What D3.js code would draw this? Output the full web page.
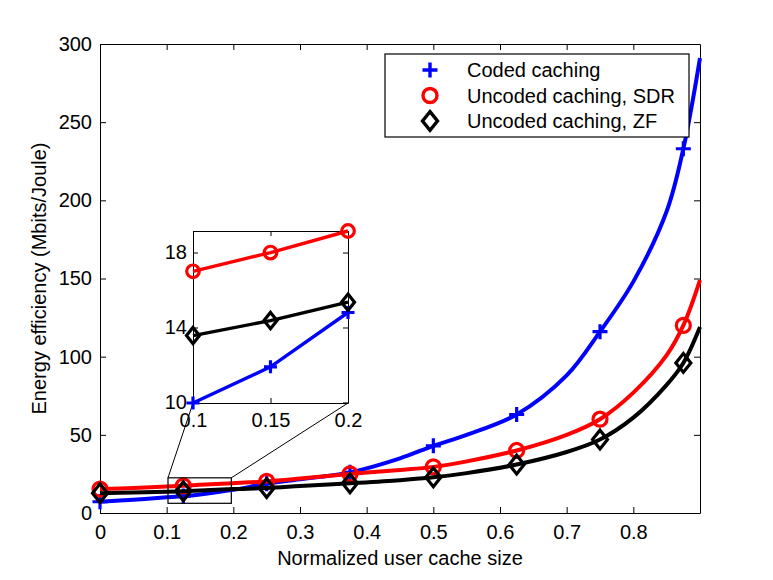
<!DOCTYPE html>
<html>
<head>
<meta charset="utf-8">
<script src="https://cdn.jsdelivr.net/npm/d3@7"></script>
<style>
  body { margin: 0; background: #fff; }
  svg { font-family: "Liberation Sans", Arial, Helvetica, sans-serif; }
  .axis path, .axis line { stroke: #000; stroke-width: 1; }
  .axis text { font-size: 20px; fill: #000; }
</style>
</head>
<body>
<div id="chart"></div>
<script>
/* Energy efficiency vs normalized user cache size, with a zoomed inset. */

// x grid shared by the three curves
const CACHE = [0, 0.05, 0.1, 0.125, 0.15, 0.2, 0.25, 0.3, 0.375, 0.45, 0.5, 0.55, 0.625, 0.7, 0.75, 0.8, 0.85, 0.875, 0.9];
const CODED    = [7.2, 8.5, 10.0, 10.8, 11.9, 14.8, 18.7, 21.5, 26, 35, 43, 50, 63, 88, 116, 148, 193, 233, 291];
const SDR      = [15.3, 16.0, 17.0, 17.4, 18.0, 19.1, 20.2, 22, 25, 27.5, 29.5, 33, 40, 50, 60, 77, 101, 120, 149];
const ZF       = [12.7, 13.1, 13.6, 13.9, 14.4, 15.3, 16.0, 17.2, 19, 21, 22.8, 25.5, 31, 39, 47, 61, 82, 96, 119];

// markers sit every 0.125
const MARKER_X = [0, 0.125, 0.25, 0.375, 0.5, 0.625, 0.75, 0.875];

// inset (zoom on 0.1 .. 0.2)
const INSET_X      = [0.1, 0.15, 0.2];
const INSET_CODED  = [9.97, 11.9, 14.8];
const INSET_SDR    = [17.0, 18.0, 19.15];
const INSET_ZF     = [13.57, 14.37, 15.35];

// zoom rectangle drawn in the main axes
const ZOOM_X = [0.102, 0.197];
const ZOOM_Y = [6.2, 22.5];

const X_TICKS = [0, 0.1, 0.2, 0.3, 0.4, 0.5, 0.6, 0.7, 0.8];
const Y_TICKS = [0, 50, 100, 150, 200, 250, 300];
const INSET_X_TICKS = [0.1, 0.15, 0.2];
const INSET_Y_TICKS = [10, 14, 18];

const SERIES = [
  { name: "Coded caching",          values: CODED, inset: INSET_CODED, color: "#0000ff", marker: "plus" },
  { name: "Uncoded caching, SDR",   values: SDR,   inset: INSET_SDR,   color: "#ff0000", marker: "circle" },
  { name: "Uncoded caching, ZF",    values: ZF,    inset: INSET_ZF,    color: "#000000", marker: "diamond" }
];

const W = 773, H = 580;

function markerPath(type, s){
  // s = half size
  if (type === "plus")    return `M${-s},0H${s}M0,${-s}V${s}`;
  if (type === "diamond") return `M0,${-s * 1.25}L${s},0L0,${s * 1.25}L${-s},0Z`;
  return d3.arc()({ innerRadius: 0, outerRadius: s, startAngle: 0, endAngle: 2 * Math.PI });
}

function drawMarkers(g, s, pts, size, width){
  g.selectAll(null).data(pts).join("path")
      .attr("transform", p => `translate(${p[0]},${p[1]})`)
      .attr("d", markerPath(s.marker, size))
      .attr("fill", "none")
      .attr("stroke", s.color)
      .attr("stroke-width", width);
}

function drawChart(){
  const svg = d3.select("#chart").append("svg")
      .attr("width", W).attr("height", H);

  const x = d3.scaleLinear().domain([0, 0.9]).range([100, 700]);
  const y = d3.scaleLinear().domain([0, 300]).range([513, 44]);

  // frame with inward ticks on all four sides
  svg.append("g").attr("class", "axis")
      .attr("transform", `translate(0,${y(0)})`)
      .call(d3.axisBottom(x).tickValues(X_TICKS).tickSize(-6).tickPadding(12).tickSizeOuter(0)
        .tickFormat(d => d === 0 ? "0" : d3.format(".1f")(d)));
  svg.append("g").attr("class", "axis")
      .attr("transform", `translate(0,${y(300)})`)
      .call(d3.axisTop(x).tickValues(X_TICKS).tickSize(-6).tickSizeOuter(0).tickFormat(""));
  svg.append("g").attr("class", "axis")
      .attr("transform", `translate(${x(0)},0)`)
      .call(d3.axisLeft(y).tickValues(Y_TICKS).tickSize(-6).tickPadding(8).tickSizeOuter(0));
  svg.append("g").attr("class", "axis")
      .attr("transform", `translate(${x(0.9)},0)`)
      .call(d3.axisRight(y).tickValues(Y_TICKS).tickSize(-6).tickSizeOuter(0).tickFormat(""));

  svg.append("text")
      .attr("x", (x(0) + x(0.9)) / 2).attr("y", 565)
      .attr("text-anchor", "middle").attr("font-size", 20)
      .text("Normalized user cache size");
  svg.append("text")
      .attr("transform", `translate(46,${(y(0) + y(300)) / 2}) rotate(-90)`)
      .attr("text-anchor", "middle").attr("font-size", 20)
      .text("Energy efficiency (Mbits/Joule)");

  // curves
  const line = d3.line().x(d => x(d[0])).y(d => y(d[1])).curve(d3.curveCatmullRom.alpha(0.5));
  SERIES.forEach(s => {
    const pts = CACHE.map((c, i) => [c, s.values[i]]);
    svg.append("path").datum(pts)
        .attr("d", line).attr("fill", "none")
        .attr("stroke", s.color).attr("stroke-width", 4);
    const mk = pts.filter(p => MARKER_X.includes(p[0])).map(p => [x(p[0]), y(p[1])]);
    drawMarkers(svg.append("g"), s, mk, s.marker === "circle" ? 7 : 7.5, 3.2);
  });

  // zoom rectangle
  svg.append("rect")
      .attr("x", x(ZOOM_X[0])).attr("y", y(ZOOM_Y[1]))
      .attr("width", x(ZOOM_X[1]) - x(ZOOM_X[0])).attr("height", y(ZOOM_Y[0]) - y(ZOOM_Y[1]))
      .attr("fill", "none").attr("stroke", "#000").attr("stroke-width", 1.2);

  // inset axes
  const allInset = INSET_CODED.concat(INSET_SDR, INSET_ZF);
  const ix = d3.scaleLinear().domain(d3.extent(INSET_X)).range([193, 348]);
  const iy = d3.scaleLinear().domain(d3.extent(allInset)).range([403, 231]);

  // connectors from zoom box to inset
  svg.append("line")
      .attr("x1", x(ZOOM_X[0])).attr("y1", y(ZOOM_Y[1])).attr("x2", ix.range()[0]).attr("y2", iy.range()[0])
      .attr("stroke", "#000").attr("stroke-width", 1);
  svg.append("line")
      .attr("x1", x(ZOOM_X[1])).attr("y1", y(ZOOM_Y[1])).attr("x2", ix.range()[1]).attr("y2", iy.range()[0])
      .attr("stroke", "#000").attr("stroke-width", 1);

  const inset = svg.append("g");
  inset.append("rect")
      .attr("x", 193).attr("y", 231).attr("width", 155).attr("height", 172)
      .attr("fill", "#fff");
  inset.append("g").attr("class", "axis")
      .attr("transform", `translate(0,${iy.range()[0]})`)
      .call(d3.axisBottom(ix).tickValues(INSET_X_TICKS).tickSize(-5).tickPadding(10).tickSizeOuter(0)
        .tickFormat(d3.format("~g")));
  inset.append("g").attr("class", "axis")
      .attr("transform", `translate(0,${iy.range()[1]})`)
      .call(d3.axisTop(ix).tickValues(INSET_X_TICKS).tickSize(-5).tickSizeOuter(0).tickFormat(""));
  inset.append("g").attr("class", "axis")
      .attr("transform", `translate(${ix.range()[0]},0)`)
      .call(d3.axisLeft(iy).tickValues(INSET_Y_TICKS).tickSize(-5).tickPadding(6).tickSizeOuter(0));
  inset.append("g").attr("class", "axis")
      .attr("transform", `translate(${ix.range()[1]},0)`)
      .call(d3.axisRight(iy).tickValues(INSET_Y_TICKS).tickSize(-5).tickSizeOuter(0).tickFormat(""));

  const iline = d3.line().x(d => ix(d[0])).y(d => iy(d[1]));
  SERIES.forEach(s => {
    const pts = INSET_X.map((c, i) => [c, s.inset[i]]);
    inset.append("path").datum(pts)
        .attr("d", iline).attr("fill", "none")
        .attr("stroke", s.color).attr("stroke-width", 3.4);
    drawMarkers(inset.append("g"), s, pts.map(p => [ix(p[0]), iy(p[1])]),
        s.marker === "circle" ? 6.3 : 6.5, 3.2);
  });

  // legend
  const lg = svg.append("g").attr("transform", "translate(385,54)");
  lg.append("rect").attr("width", 304).attr("height", 83)
      .attr("fill", "#fff").attr("stroke", "#000").attr("stroke-width", 1.2);
  SERIES.forEach((s, i) => {
    const cy = 16 + i * 25.5;
    drawMarkers(lg.append("g"), s, [[45, cy]], s.marker === "circle" ? 7 : 7.5, 3.4);
    lg.append("text").attr("x", 82).attr("y", cy + 7)
        .attr("font-size", 20).text(s.name);
  });
}

drawChart();
</script>
</body>
</html>
